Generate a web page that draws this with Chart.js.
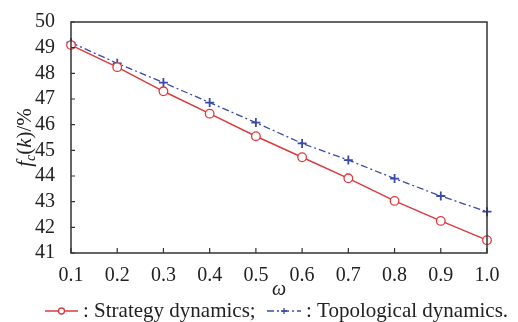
<!DOCTYPE html>
<html>
<head>
<meta charset="utf-8">
<script src="https://cdn.jsdelivr.net/npm/chart.js@4.4.1/dist/chart.umd.min.js"></script>
<style>
  html, body { margin: 0; padding: 0; background: #fff; }
  #wrap { width: 518px; height: 322px; position: relative; }
</style>
</head>
<body>
<div id="wrap"><canvas id="chart"></canvas></div>
<script>
// ── Data ─────────────────────────────────────────────────────────────────────
const omegaLabels = ["0.1", "0.2", "0.3", "0.4", "0.5", "0.6", "0.7", "0.8", "0.9", "1.0"];
const strategyVals = [49.1, 48.24, 47.3, 46.43, 45.55, 44.73, 43.91, 43.03, 42.25, 41.5];
const topoVals     = [49.2, 48.39, 47.64, 46.86, 46.08, 45.27, 44.62, 43.9, 43.22, 42.61];
const yTicks = [41, 42, 43, 44, 45, 46, 47, 48, 49, 50];

const RED  = "#dd3a3e";
const BLUE = "#3a4aa8";
const AXIS = "#333";
const SERIF = "'Liberation Serif', 'DejaVu Serif', serif";

// ── Frame, inner ticks, axis titles, legend ──────────────────────────────────
const decor = {
  id: "decor",
  afterDraw(chart) {
    const { ctx, chartArea: a, scales } = chart;
    ctx.save();
    ctx.strokeStyle = AXIS;
    ctx.lineWidth = 1.5;
    ctx.strokeRect(a.left, a.top, a.right - a.left, a.bottom - a.top);

    // inward tick marks
    ctx.lineWidth = 1.2;
    ctx.beginPath();
    omegaLabels.forEach((_, i) => {
      const x = scales.x.getPixelForValue(i);
      ctx.moveTo(x, a.bottom); ctx.lineTo(x, a.bottom - 5);
    });
    yTicks.forEach(v => {
      const y = scales.y.getPixelForValue(v);
      ctx.moveTo(a.left, y); ctx.lineTo(a.left + 4, y);
    });
    ctx.stroke();

    // x title
    ctx.fillStyle = "#222";
    ctx.font = "italic 20px " + SERIF;
    ctx.textAlign = "center";
    ctx.textBaseline = "alphabetic";
    ctx.fillText("ω", (a.left + a.right) / 2, 295);

    // y title  f_c(k)/%
    ctx.translate(31, (a.top + a.bottom) / 2);
    ctx.rotate(-Math.PI / 2);
    const parts = [
      { t: "f", f: "italic 21px " + SERIF, dy: 0 },
      { t: "c", f: "italic 14px " + SERIF, dy: 4 },
      { t: "(", f: "21px " + SERIF, dy: 0 },
      { t: "k", f: "italic 21px " + SERIF, dy: 0 },
      { t: ")/%", f: "21px " + SERIF, dy: 0 },
    ];
    let total = 0;
    parts.forEach(p => { ctx.font = p.f; total += ctx.measureText(p.t).width; });
    let x = -total / 2;
    ctx.textAlign = "left";
    parts.forEach(p => {
      ctx.font = p.f;
      ctx.fillText(p.t, x, p.dy);
      x += ctx.measureText(p.t).width;
    });
    ctx.setTransform(1, 0, 0, 1, 0, 0);

    // legend
    const ly = 311;
    chart.data.datasets.forEach((ds, i) => {
      const x0 = i === 0 ? 45 : 267;
      const x1 = i === 0 ? 78 : 301;
      ctx.strokeStyle = ds.borderColor;
      ctx.lineWidth = 1.3;
      ctx.setLineDash(ds.borderDash || []);
      ctx.beginPath(); ctx.moveTo(x0, ly); ctx.lineTo(x1, ly); ctx.stroke();
      ctx.setLineDash([]);
      const cx = (x0 + x1) / 2;
      ctx.beginPath();
      if (ds.pointStyle === "circle") {
        ctx.fillStyle = "#fff";
        ctx.arc(cx, ly, 3, 0, Math.PI * 2);
        ctx.fill(); ctx.stroke();
      } else {
        ctx.moveTo(cx - 3, ly); ctx.lineTo(cx + 3, ly);
        ctx.moveTo(cx, ly - 3); ctx.lineTo(cx, ly + 3);
        ctx.stroke();
      }
      ctx.fillStyle = "#222";
      ctx.font = "21px " + SERIF;
      ctx.textAlign = "left";
      ctx.textBaseline = "middle";
      ctx.fillText(ds.label, x1 + 5, ly);
    });
    ctx.restore();
  },
};

// ── Chart ────────────────────────────────────────────────────────────────────
new Chart(document.getElementById("chart"), {
  type: "line",
  data: {
    labels: omegaLabels,
    datasets: [
      {
        label: ": Strategy dynamics;",
        data: strategyVals,
        borderColor: RED,
        backgroundColor: "#fff",
        borderWidth: 1.5,
        pointStyle: "circle",
        pointRadius: 4.3,
        pointBorderWidth: 1.3,
        tension: 0,
      },
      {
        label: ": Topological dynamics.",
        data: topoVals,
        borderColor: BLUE,
        backgroundColor: BLUE,
        borderWidth: 1.3,
        borderDash: [7, 3, 2, 3],
        pointStyle: "cross",
        pointRadius: 4.5,
        pointBorderWidth: 1.8,
        tension: 0,
      },
    ],
  },
  plugins: [decor],
  options: {
    responsive: true,
    maintainAspectRatio: false,
    animation: false,
    layout: { padding: { left: 0, right: 31, top: 22, bottom: 0 } },
    plugins: { legend: { display: false }, tooltip: { enabled: false } },
    scales: {
      x: {
        type: "category",
        offset: false,
        grid: { display: false },
        border: { display: false },
        ticks: { color: "#222", font: { family: SERIF, size: 20 }, padding: 3, maxRotation: 0, autoSkip: false },
        afterFit: (s) => { s.height = 69; },
      },
      y: {
        min: 41,
        max: 50,
        grid: { display: false },
        border: { display: false },
        ticks: { stepSize: 1, autoSkip: false, color: "#222", font: { family: SERIF, size: 20 }, padding: 8 },
        afterFit: (s) => { s.width = 71; },
      },
    },
  },
});
</script>
</body>
</html>
